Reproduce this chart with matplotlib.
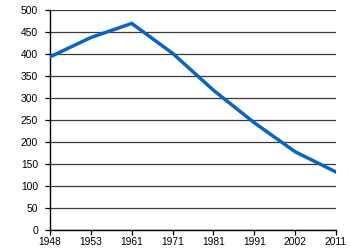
import numpy as np
import matplotlib
matplotlib.use("Agg")
import matplotlib.pyplot as plt

plt.rcParams["font.family"] = ["Liberation Sans", "DejaVu Sans"]

# census years and values
years = ["1948", "1953", "1961", "1971", "1981", "1991", "2002", "2011"]
values = [394, 438, 470, 402, 318, 244, 178, 132]
y_ticks = list(range(0, 501, 50))

fig = plt.figure(figsize=(3.5, 2.5), dpi=100)
ax = fig.add_axes([0.143, 0.08, 0.817, 0.879])

x = np.arange(len(years))
ax.plot(x, values, color="#0a64c0", linewidth=2.5, solid_joinstyle="miter", zorder=3)

ax.set_xlim(0, len(years) - 1)
ax.set_ylim(0, 500)
ax.set_xticks(x)
ax.set_xticklabels(years)
ax.set_yticks(y_ticks)

# horizontal grid only
ax.yaxis.grid(True, color="#3a3a3a", linewidth=0.9)
ax.set_axisbelow(True)

for side in ["top", "right"]:
    ax.spines[side].set_visible(False)
ax.spines["left"].set_linewidth(1.0)
ax.spines["bottom"].set_linewidth(1.0)
ax.tick_params(axis="both", labelsize=7.4, length=3.5, width=0.9, pad=1.5, colors="black")
ax.tick_params(axis="y", pad=5)

fig.savefig("out.png", dpi=100)
